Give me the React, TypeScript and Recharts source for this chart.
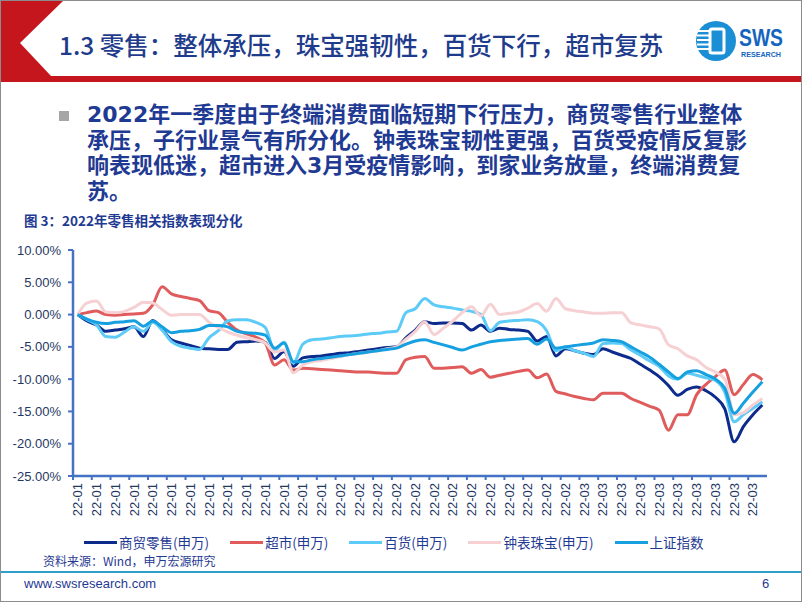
import React from "react";
import { Legend, Line, LineChart, XAxis, YAxis } from "recharts";

const CJK = '"Noto Sans CJK SC", "Noto Sans", sans-serif';
const BODY_FONT = '"DejaVu Sans", "Noto Sans CJK SC", sans-serif';
const LATIN = '"Liberation Sans", Arial, sans-serif';
const RED = "#c5161d";
const TITLE = "#1f3c8c";
const TEXT = "#1f3a93";
const TICK = "#1f3864";
const AXIS = "#4472c4";

const RETAIL = "#0d2b8c";
const SUPER = "#e05b5b";
const DEPT = "#5ccbf7";
const JEWEL = "#f6d0d2";
const SH = "#16a0e0";

// categories: one point per trading day, label is the month
const months = ["22-01", "22-02", "22-03"];
const pointsPerMonth = [28, 26, 20];

const seriesNames = ["商贸零售(申万)", "超市(申万)", "百货(申万)", "钟表珠宝(申万)", "上证指数"];

// 商贸零售(申万), %
const retail = [
  0, -1.0, -1.6, -2.6, -2.4, -2.2, -1.9, -3.4, -0.9, -2.3,
  -3.9, -4.4, -4.8, -5.2, -5.3, -5.4, -5.4, -4.3, -4.2, -4.1,
  -4.3, -6.8, -5.7, -8.0, -6.7, -6.5, -6.4, -6.2, -6.0, -5.9,
  -5.7, -5.5, -5.3, -5.1, -5.0, -3.6, -2.4, -1.1, -1.4, -1.3,
  -1.3, -1.4, -2.4, -1.6, -2.6, -2.1, -2.3, -2.4, -2.6, -4.1,
  -3.4, -6.4, -5.3, -5.6, -6.0, -6.2, -5.3, -5.8, -6.3, -6.8,
  -7.7, -8.6, -9.6, -11.0, -12.5, -11.6, -11.2, -11.8, -12.8, -14.6,
  -19.7, -17.3, -15.5, -14.0,
];

// 超市(申万)
const supermarket = [
  0, 0.3, 0.55, 0.0, -0.1, 0.0, 0.1, 0.2, 1.5, 4.3,
  3.2, 2.8, 2.5, 2.15, 0.6, 0.3, -1.2, -2.4, -3.0, -3.5,
  -4.4, -7.8, -7.0, -8.6, -8.3, -8.4, -8.5, -8.6, -8.7, -8.8,
  -8.9, -8.9, -9.0, -9.1, -9.1, -7.0, -6.6, -6.5, -8.3, -8.3,
  -8.2, -8.1, -9.1, -8.5, -9.7, -9.4, -9.1, -8.8, -8.6, -9.8,
  -9.2, -11.9, -12.3, -12.7, -13.0, -13.2, -12.2, -12.2, -12.2, -13.0,
  -13.6, -14.2, -14.8, -17.9, -15.5, -15.5, -12.4, -10.8, -9.6, -8.6,
  -12.4, -10.8, -9.3, -10.1,
];

// 百货(申万)
const department = [
  0, -0.8, -1.6, -3.4, -3.5, -2.7, -1.9, -2.6, -1.2, -2.4,
  -4.2, -4.9, -5.2, -5.4, -3.6, -2.5, -1.0, -0.8, -0.8, -1.2,
  -2.0, -5.5, -4.3, -7.5, -4.6, -3.9, -3.8, -3.6, -3.4, -3.3,
  -3.2, -3.0, -2.9, -2.7, -2.6, 0.3, 0.9, 2.5, 1.5, 1.2,
  1.0, 0.7, 0.5, 0.0, -2.5, -1.2, -1.0, -0.9, -0.8, -1.1,
  -2.5, -5.6, -5.1, -5.6, -6.0, -6.5, -4.5, -4.4, -4.5, -5.5,
  -6.3, -7.2, -8.0, -9.5, -10.0, -9.1, -9.4, -9.8, -10.2, -12.0,
  -16.6, -15.5, -14.5, -13.5,
];

// 钟表珠宝(申万)
const jewelry = [
  0, 1.8, 2.1, 0.4, 0.3, 0.5, 1.1, 1.9, 1.8, 0.8,
  -0.1, 0.0, 0.0, 0.0, -1.2, -2.0, -2.7, -3.2, -3.6, -3.9,
  -4.4, -5.8, -5.5, -9.0, -7.8, -7.3, -7.1, -6.8, -6.5, -6.2,
  -6.0, -5.8, -5.6, -5.3, -5.0, -3.8, -2.6, -1.1, -3.1, -2.1,
  -1.0, 0.3, 1.2, -0.2, 1.6, 0.0, 0.2, 0.4, 1.0, 1.7,
  0.5, 2.5, 0.9, 0.6, 0.4, 0.2, 0.2, 0.3, 0.3, -1.3,
  -1.6, -1.9, -2.2, -4.7, -5.3, -6.4, -7.0, -8.2, -8.9, -10.0,
  -15.5, -15.2, -14.0, -13.0,
];

// 上证指数
const shIndex = [
  0, -0.7, -1.2, -1.4, -1.2, -1.1, -0.95, -1.8, -1.0, -1.9,
  -2.8, -2.6, -2.5, -2.3, -1.7, -1.7, -1.9, -2.6, -2.8, -2.9,
  -3.2, -5.2, -4.4, -7.3, -7.3, -7.0, -6.8, -6.6, -6.4, -6.2,
  -6.0, -5.8, -5.6, -5.4, -5.2, -4.6, -4.1, -3.9, -4.3, -4.7,
  -5.1, -5.5, -5.0, -4.6, -4.2, -4.0, -3.9, -3.8, -3.7, -4.6,
  -3.8, -5.2, -5.0, -4.8, -4.6, -4.4, -3.9, -4.0, -4.2, -5.0,
  -5.8, -6.6, -7.7, -8.9, -9.9, -8.9, -8.7, -9.3, -10.0, -11.4,
  -15.3, -13.7, -12.0, -10.4,
];

const yTicks = [10, 5, 0, -5, -10, -15, -20, -25];

const bodyLines = [
  "2022年一季度由于终端消费面临短期下行压力，商贸零售行业整体",
  "承压，子行业景气有所分化。钟表珠宝韧性更强，百货受疫情反复影",
  "响表现低迷，超市进入3月受疫情影响，到家业务放量，终端消费复",
  "苏。",
];

const labels = months.flatMap((m, k) => Array(pointsPerMonth[k]).fill(m));
const data = labels.map((label, i) => ({
  idx: i,
  label,
  retail: retail[i],
  supermarket: supermarket[i],
  department: department[i],
  jewelry: jewelry[i],
  shIndex: shIndex[i],
}));
const xTicks = data.filter((d) => d.idx % 2 === 0).map((d) => d.idx);

const PLOT_W = 694;
const HALF_BAND = PLOT_W / labels.length / 2;

function XTick(props: any) {
  const { x, y, payload } = props;
  return (
    <g>
      <line x1={x - HALF_BAND} x2={x - HALF_BAND} y1={y - 7} y2={y - 3} stroke={AXIS} strokeWidth={2} />
      <text
        x={x}
        y={y}
        dy="0.35em"
        textAnchor="end"
        transform={`rotate(-90, ${x}, ${y})`}
        fontSize={13}
        fontFamily={LATIN}
        fill={TICK}
      >
        {labels[payload.value]}
      </text>
    </g>
  );
}

function LegendContent(props: any) {
  const { payload = [] } = props;
  const items = [...payload].sort(
    (a: any, b: any) => seriesNames.indexOf(a.value) - seriesNames.indexOf(b.value)
  );
  return (
    <div
      style={{
        display: "flex",
        alignItems: "center",
        height: 20,
        paddingLeft: 84,
        gap: 21,
        fontFamily: CJK,
        fontSize: 13.5,
        color: TEXT,
        whiteSpace: "nowrap",
      }}
    >
      {items.map((entry: any) => (
        <div key={entry.value} style={{ display: "flex", alignItems: "center" }}>
          <span style={{ display: "inline-block", width: 33, height: 3, background: entry.color, marginRight: 2 }} />
          <span>{entry.value}</span>
        </div>
      ))}
    </div>
  );
}

function Header() {
  return (
    <svg width={802} height={90} style={{ position: "absolute", left: 0, top: 0 }}>
      <rect x={0} y={0} width={802} height={82} fill={RED} />
      <polygon points="64,0 802,0 802,76 51,76 20,43" fill="#fff" />
      <circle cx={716} cy={41} r={20} fill="#1b8fd6" />
      {[30, 34.5, 39, 43.5, 48].map((sy) => (
        <rect key={sy} x={697} y={sy} width={12} height={2} fill="#fff" />
      ))}
      <rect x={710} y={29} width={14} height={24} rx={2} fill="none" stroke="#fff" strokeWidth={3} />
      <text x={739} y={46} fontSize={24} fontWeight={700} fontFamily={LATIN} fill="#1565c0" textLength={44} lengthAdjust="spacingAndGlyphs">
        SWS
      </text>
      <text x={741} y={57} fontSize={7} fontWeight={700} fontFamily={LATIN} fill="#1565c0" textLength={40} lengthAdjust="spacingAndGlyphs">
        RESEARCH
      </text>
    </svg>
  );
}

export default function App() {
  return (
    <div
      style={{
        position: "absolute",
        left: 0,
        top: 0,
        width: 802,
        height: 602,
        background: "#fff",
        overflow: "hidden",
        fontFamily: CJK,
      }}
    >
      <Header />
      <div
        style={{
          position: "absolute",
          left: 59,
          top: 30,
          fontSize: 24.5,
          lineHeight: "30px",
          fontWeight: 500,
          color: TITLE,
          whiteSpace: "nowrap",
        }}
      >
        1.3 零售：整体承压，珠宝强韧性，百货下行，超市复苏
      </div>

      <div style={{ position: "absolute", left: 59, top: 111, width: 10, height: 10, background: "#a6a6a6" }} />
      <div
        style={{
          position: "absolute",
          left: 87,
          top: 102,
          fontSize: 22,
          lineHeight: "25.5px",
          fontWeight: 700,
          fontFamily: BODY_FONT,
          color: TEXT,
          whiteSpace: "nowrap",
        }}
      >
        {bodyLines.map((l) => (
          <div key={l}>{l}</div>
        ))}
      </div>

      <div
        style={{
          position: "absolute",
          left: 24,
          top: 211,
          fontSize: 13.5,
          lineHeight: "18px",
          fontWeight: 700,
          color: TEXT,
          whiteSpace: "nowrap",
        }}
      >
        图 3：2022年零售相关指数表现分化
      </div>

      <div style={{ position: "absolute", left: 0, top: 230 }}>
        <LineChart width={802} height={330} data={data} margin={{ top: 20, right: 35, bottom: 8, left: 0 }}>
          <XAxis
            type="number"
            dataKey="idx"
            domain={[-0.5, labels.length - 0.5]}
            ticks={xTicks}
            interval={0}
            height={56}
            tickSize={4}
            tickMargin={3}
            tickLine={false}
            axisLine={{ stroke: AXIS, strokeWidth: 2.5 }}
            tick={<XTick />}
          />
          <YAxis
            domain={[-25, 10]}
            ticks={yTicks}
            allowDataOverflow
            width={73}
            tickSize={5}
            tickMargin={7}
            tickFormatter={(v: number) => v.toFixed(2) + "%"}
            axisLine={{ stroke: AXIS, strokeWidth: 2.5 }}
            tickLine={{ stroke: AXIS, strokeWidth: 2 }}
            tick={{ fontSize: 13, fill: TICK, fontFamily: LATIN }}
          />
          <Legend verticalAlign="bottom" content={<LegendContent />} wrapperStyle={{ left: 0, width: 802 }} />
          <Line type="monotone" dataKey="retail" name={seriesNames[0]} stroke={RETAIL} strokeWidth={3} dot={false} isAnimationActive={false} />
          <Line type="monotone" dataKey="supermarket" name={seriesNames[1]} stroke={SUPER} strokeWidth={3} dot={false} isAnimationActive={false} />
          <Line type="monotone" dataKey="department" name={seriesNames[2]} stroke={DEPT} strokeWidth={3} dot={false} isAnimationActive={false} />
          <Line type="monotone" dataKey="jewelry" name={seriesNames[3]} stroke={JEWEL} strokeWidth={3} dot={false} isAnimationActive={false} />
          <Line type="monotone" dataKey="shIndex" name={seriesNames[4]} stroke={SH} strokeWidth={3} dot={false} isAnimationActive={false} />
        </LineChart>
      </div>

      <div
        style={{
          position: "absolute",
          left: 43,
          top: 553,
          fontSize: 12,
          lineHeight: "16px",
          color: TEXT,
          whiteSpace: "nowrap",
        }}
      >
        资料来源：Wind，申万宏源研究
      </div>
      <div style={{ position: "absolute", left: 0, top: 571, width: 802, height: 2, background: "#2e9fc9" }} />
      <div
        style={{
          position: "absolute",
          left: 24,
          top: 576,
          fontSize: 13,
          lineHeight: "16px",
          fontFamily: LATIN,
          color: TEXT,
        }}
      >
        www.swsresearch.com
      </div>
      <div
        style={{
          position: "absolute",
          left: 762,
          top: 576,
          fontSize: 13,
          lineHeight: "16px",
          fontFamily: LATIN,
          color: TEXT,
        }}
      >
        6
      </div>
      <div
        style={{
          position: "absolute",
          left: 0,
          top: 0,
          width: 802,
          height: 602,
          boxSizing: "border-box",
          border: "1px solid #8c8c8c",
          pointerEvents: "none",
        }}
      />
    </div>
  );
}
